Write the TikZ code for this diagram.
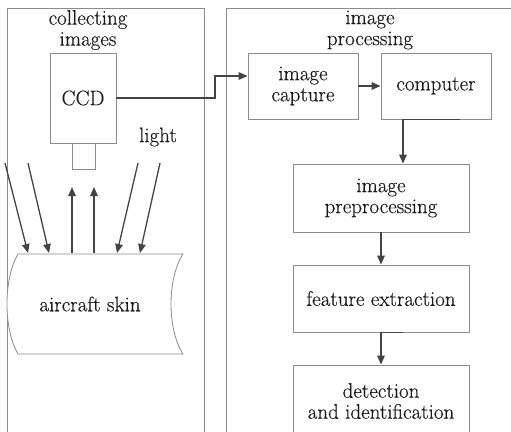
\documentclass[tikz,border=0pt]{standalone}
\usepackage{fontspec}
\setmainfont{Latin Modern Roman}[FakeBold=0.3]
\usepackage{tikz}
\usetikzlibrary{arrows.meta,positioning,calc}
\definecolor{Ink}{HTML}{1A1A1A}
\definecolor{Frame}{HTML}{8C8C8C}
\definecolor{Wire}{HTML}{444444}

\begin{document}
\begin{tikzpicture}[
  x=1pt, y=-1pt,
  txt/.style={font=\fontsize{21}{21}\selectfont, text=Ink, align=center, inner sep=0pt},
  box/.style={txt, draw=Frame, line width=0.8pt, fill=white},
  panel/.style={draw=Frame, line width=0.8pt},
  arrow/.style={-{Triangle[length=9pt,width=7.5pt]}, line width=1.5pt, draw=Wire},
  ray/.style={arrow, line width=1.3pt}
]
\useasboundingbox (0,0) rectangle (511,431);
\clip (0,0) rectangle (511,431);

% panels
\draw[panel] (7,450) -- (7,8) -- (204,8) -- (204,450);
\draw[panel] (226,450) -- (226,8) -- (530,8);
\node[txt] (collect) at (88,30) {collecting\\images};
\node[txt] (proc) at (370,30) {image\\processing};

% collecting side
\node[box, minimum width=66pt, minimum height=90pt] (ccd) at (83,98) {CCD};
\node[box, minimum width=23pt, minimum height=26pt] (lens) at (83.5,156) {};
\node[txt] (light) at (158,137) {light};
\draw[panel, fill=white] (18,254) -- (183,254)
  .. controls (167,279) and (167,329) .. (183,354) -- (18,354)
  .. controls (3.3,329) and (3.3,279) .. (18,254) -- cycle;
\node[txt] (skin) at (90,304) {aircraft skin};

\coordinate (s1) at (5,163);   \coordinate (t1) at (28,253);
\coordinate (s2) at (28,163);  \coordinate (t2) at (49,253);
\coordinate (s3) at (138,163); \coordinate (t3) at (117,253);
\coordinate (s4) at (160,163); \coordinate (t4) at (140,253);
\coordinate (r1) at (72,253);  \coordinate (u1) at (72,187);
\coordinate (r2) at (94,253);  \coordinate (u2) at (94,187);
\draw[ray] (s1) -- (t1);
\draw[ray] (s2) -- (t2);
\draw[ray] (s3) -- (t3);
\draw[ray] (s4) -- (t4);
\draw[ray] (r1) -- (u1);
\draw[ray] (r2) -- (u2);

% processing side
\node[box, minimum width=110pt, minimum height=66pt] (capture) at (303,86) {image\\capture};
\node[box, minimum width=110pt, minimum height=66pt] (computer) at (436,86) {computer};
\node[box, minimum width=176pt, minimum height=68pt] (prep) at (381,198) {image\\preprocessing};
\node[box, minimum width=176pt, minimum height=67pt] (feat) at (381,298.5) {feature extraction};
\node[box, minimum width=176pt, minimum height=80pt] (detect) at (381,405) {};
\node[txt] (detecttxt) at (381,401) {detection\\and identification};

\coordinate (bend) at (215,76);
\draw[arrow] (ccd.east) -| (bend) -- (capture.west |- bend);
\draw[arrow] (capture) -- (computer);
\draw[arrow] ([xshift=24]computer.south) -| ([xshift=22]prep.north);
\draw[arrow] (prep) -- (feat);
\draw[arrow] ([xshift=22]feat.south) -| (detect.north);
\end{tikzpicture}
\end{document}
